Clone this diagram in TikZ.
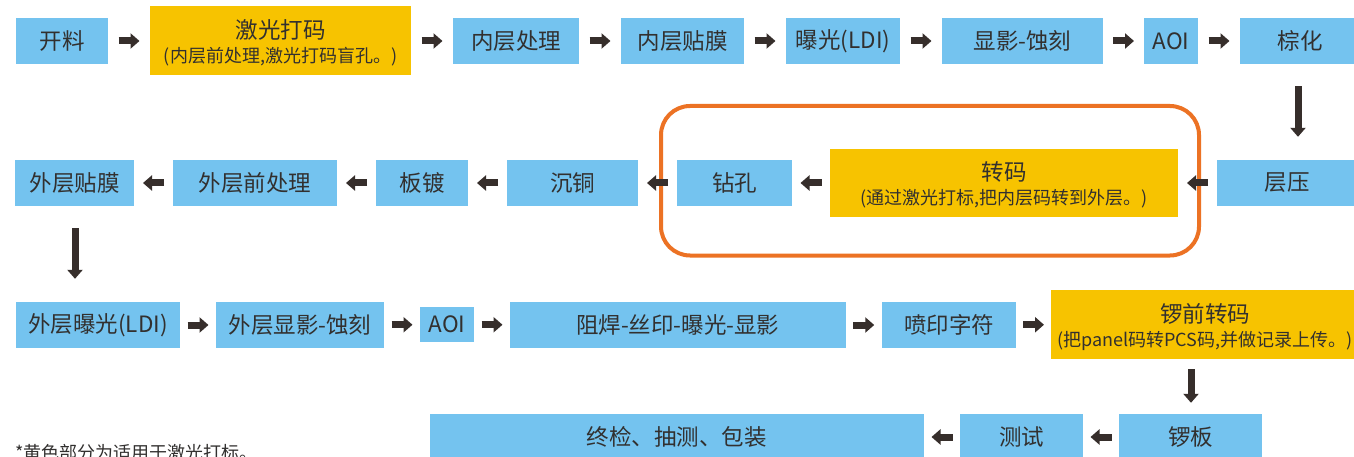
\documentclass[tikz,border=0pt]{standalone}
\usepackage{fontspec}
\setmainfont{Noto Sans CJK SC}
\usetikzlibrary{arrows.meta,calc}
\definecolor{boxblue}{RGB}{116,195,239}
\definecolor{boxyellow}{RGB}{247,195,0}
\definecolor{frameorange}{RGB}{236,114,36}
\definecolor{arrowdark}{RGB}{54,46,43}
\definecolor{txt}{RGB}{50,48,47}
\newcommand{\rarr}[2]{\draw[arr] ($(#1.east)!.5!(#2.west)+(-10.5,0)$) -- ++(21,0);}
\newcommand{\larr}[2]{\draw[arr] ($(#1.west)!.5!(#2.east)+(10.5,0)$) -- ++(-21,0);}
\begin{document}
\begin{tikzpicture}[x=1pt,y=-1pt,
  bbox/.style={fill=boxblue,inner sep=0pt,minimum height=46,text=txt,
    font=\fontsize{22.5}{26}\selectfont},
  ybox/.style={fill=boxyellow,inner sep=0pt,minimum height=69},
  ttl/.style={inner sep=0pt,text=txt,font=\fontsize{22.5}{26}\selectfont},
  sub/.style={inner sep=0pt,text=txt,font=\fontsize{18}{22}\selectfont},
  arr/.style={draw=arrowdark,line width=7pt,-{Triangle[length=9pt,width=15pt]}},
  frame/.style={draw=frameorange,line width=4pt,rounded corners=29pt,inner sep=0pt}
]
\useasboundingbox (0,0) rectangle (1354,457);
\fill[white] (0,0) rectangle (1354,457);
% group frame
\node[frame,minimum width=538,minimum height=149.5] (grp) at (930,180.75) {};
% row 1
\node[bbox,minimum width=92] (n1) at (62,41) {开料};
\node[ybox,minimum width=261] (n2) at (280.5,41) {};
\node[ttl] (n2t) at ($(n2.center)+(0,-11)$) {激光打码};
\node[sub] (n2s) at ($(n2.center)+(0,16)$) {(内层前处理,激光打码盲孔。)};
\node[bbox,minimum width=126] (n3) at (516,41) {内层处理};
\node[bbox,minimum width=123] (n4) at (682.5,41) {内层贴膜};
\node[bbox,minimum width=114] (n5) at (843,41) {曝光(LDI)};
\node[bbox,minimum width=161] (n6) at (1022.5,41) {显影-蚀刻};
\node[bbox,minimum width=54] (n7) at (1171,41) {AOI};
\node[bbox,minimum width=120] (n8) at (1300,41) {棕化};
% row 2
\node[bbox,minimum width=140] (n9) at (1287,183) {层压};
\node[ybox,minimum width=348,minimum height=68] (n10) at (1004,183) {};
\node[ttl] (n10t) at ($(n10.center)+(0,-11)$) {转码};
\node[sub] (n10s) at ($(n10.center)+(0,16)$) {(通过激光打标,把内层码转到外层。)};
\node[bbox,minimum width=115] (n11) at (734.5,183) {钻孔};
\node[bbox,minimum width=131] (n12) at (572.5,183) {沉铜};
\node[bbox,minimum width=92] (n13) at (422,183) {板镀};
\node[bbox,minimum width=164] (n14) at (255,183) {外层前处理};
\node[bbox,minimum width=119] (n15) at (74.5,183) {外层贴膜};
% row 3
\node[bbox,minimum width=164] (n16) at (98,325) {外层曝光(LDI)};
\node[bbox,minimum width=168] (n17) at (300,325) {外层显影-蚀刻};
\node[bbox,minimum width=54,minimum height=35] (n18) at (447,324.5) {AOI};
\node[bbox,minimum width=335.5] (n19) at (677.75,325) {阻焊-丝印-曝光-显影};
\node[bbox,minimum width=134] (n20) at (949,325) {喷印字符};
\node[ybox,minimum width=308] (n21) at (1205,324.5) {};
\node[ttl] (n21t) at ($(n21.center)+(0,-11)$) {锣前转码};
\node[sub] (n21s) at ($(n21.center)+(0,16)$) {(把panel码转PCS码,并做记录上传。)};
% row 4
\node[bbox,minimum width=143] (n22) at (1190.5,437) {锣板};
\node[bbox,minimum width=123] (n23) at (1021.5,437) {测试};
\node[bbox,minimum width=494.5] (n24) at (676.75,437) {终检、抽测、包装};
% footnote
\node[sub,anchor=west] (note) at (15,453) {*黄色部分为适用于激光打标。};
% arrows row 1
\rarr{n1}{n2} \rarr{n2}{n3} \rarr{n3}{n4} \rarr{n4}{n5}
\rarr{n5}{n6} \rarr{n6}{n7} \rarr{n7}{n8}
% down
\draw[arr] ($(n8.south)+(-2,22)$) -- ($(n9.north)+(11,-23)$);
% row 2
\larr{n9}{n10} \larr{n10}{n11} \larr{n11}{n12} \larr{n12}{n13}
\larr{n13}{n14} \larr{n14}{n15}
\draw[arr] ($(n15.south)+(0.5,22)$) -- ($(n16.north)+(-23,-23)$);
% row 3
\rarr{n16}{n17} \rarr{n17}{n18} \rarr{n18}{n19} \rarr{n19}{n20} \rarr{n20}{n21}
\draw[arr] ($(n21.south)+(-14,10)$) -- ($(n22.north)+(0.5,-11)$);
% row 4
\larr{n22}{n23} \larr{n23}{n24}
\end{tikzpicture}
\end{document}
